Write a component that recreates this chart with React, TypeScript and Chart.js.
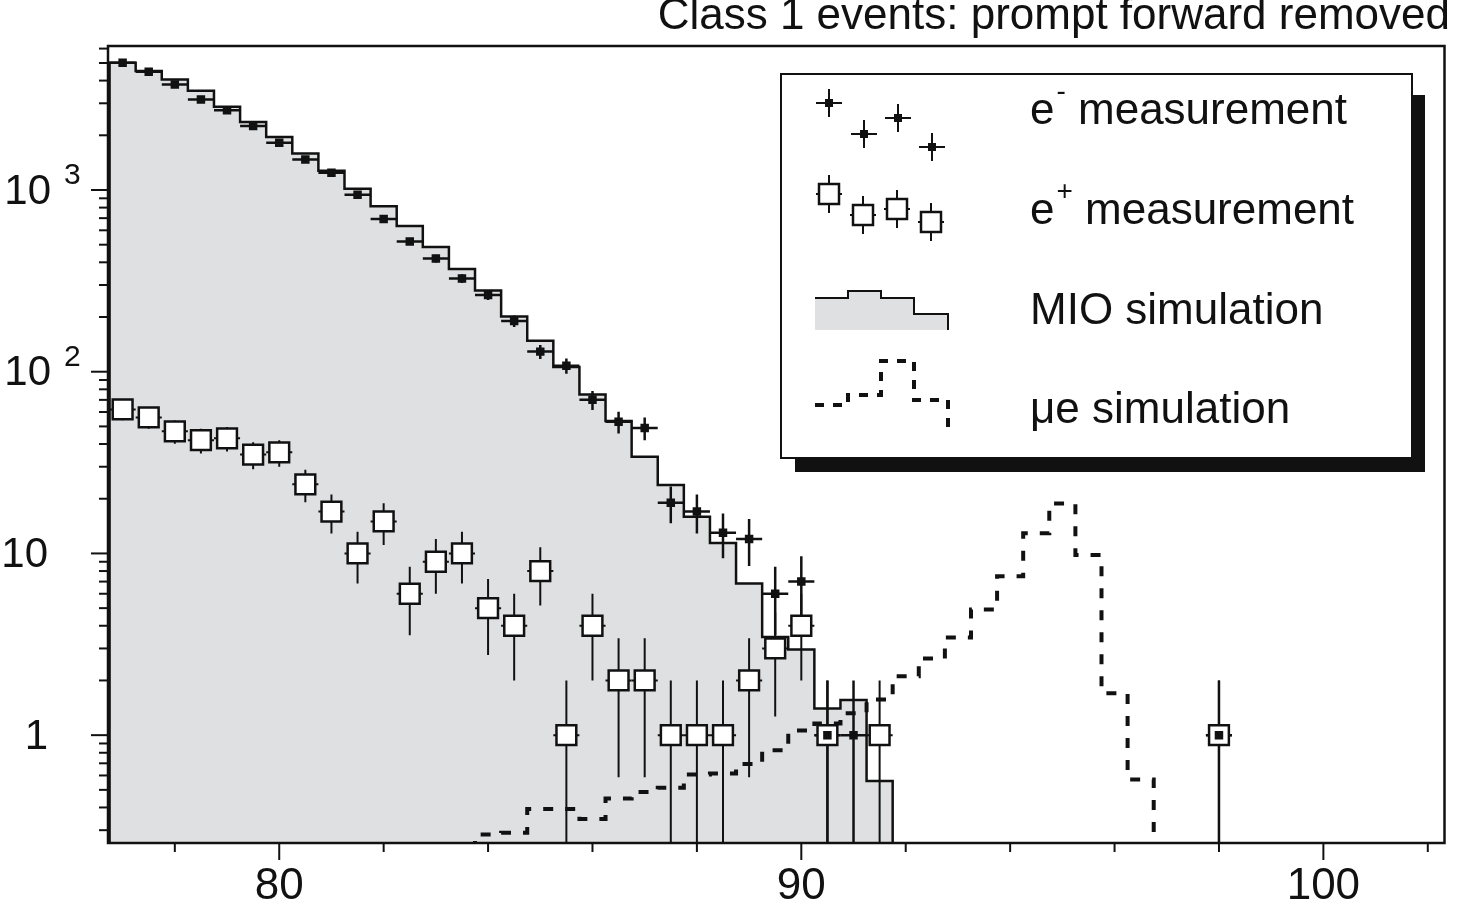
import React, { useEffect, useRef } from 'react';
import { Chart, registerables } from 'chart.js';

Chart.register(...registerables);

// bin centres are 0.5 MeV apart
const BIN_W = 0.5;
const E_MINUS_X = [77, 77.5, 78, 78.5, 79, 79.5, 80, 80.5, 81, 81.5, 82, 82.5, 83, 83.5, 84, 84.5, 85, 85.5, 86, 86.5, 87, 87.5, 88, 88.5, 89, 89.5, 90, 90.5, 91, 98];
const E_MINUS_Y = [5010, 4470, 3810, 3150, 2750, 2250, 1820, 1473, 1245, 941, 693, 521, 420, 326, 264, 190, 129, 108, 70, 53, 49, 19, 17, 13, 12, 6, 7, 1, 1, 1];
const E_PLUS_X = [77, 77.5, 78, 78.5, 79, 79.5, 80, 80.5, 81, 81.5, 82, 82.5, 83, 83.5, 84, 84.5, 85, 85.5, 86, 86.5, 87, 87.5, 88, 88.5, 89, 89.5, 90, 90.5, 91.5, 98];
const E_PLUS_Y = [62, 56, 47, 42, 43, 35, 36, 24, 17, 10, 15, 6, 9, 10, 5, 4, 8, 1, 4, 2, 2, 1, 1, 1, 2, 3, 4, 1, 1, 1];
const MIO_X = [77, 77.5, 78, 78.5, 79, 79.5, 80, 80.5, 81, 81.5, 82, 82.5, 83, 83.5, 84, 84.5, 85, 85.5, 86, 86.5, 87, 87.5, 88, 88.5, 89, 89.5, 90, 90.5, 91, 91.5];
const MIO_Y = [5010, 4510, 4060, 3520, 2870, 2370, 1960, 1590, 1275, 1016, 815, 633, 486, 367, 280, 201, 148, 106, 75, 53.5, 34, 23.8, 15.9, 11.4, 6.84, 3.47, 2.96, 1.40, 1.56, 0.56];
const MUE_X = [84, 84.5, 85, 85.5, 86, 86.5, 87, 87.5, 88, 88.5, 89, 89.5, 90, 90.5, 91, 91.5, 92, 92.5, 93, 93.5, 94, 94.5, 95, 95.5, 96, 96.5];
const MUE_Y = [0.284, 0.29, 0.392, 0.392, 0.346, 0.448, 0.486, 0.513, 0.608, 0.615, 0.693, 0.827, 1.06, 1.16, 1.32, 1.57, 2.11, 2.64, 3.45, 4.92, 7.5, 12.9, 18.8, 9.79, 1.70, 0.57];
const X_MIN = 76.72, X_MAX = 102.32;
const Y_MIN = 0.255, Y_MAX = 6200;
const X_LABELS = [80, 90, 100];
const Y_LABELS: [number, string, string][] = [[1000, '10', '3'], [100, '10', '2'], [10, '10', ''], [1, '1', '']];
const TITLE = 'Class 1 events: prompt forward removed';
const FLOOR = 0.1;

const FONT = '"Liberation Sans", Arial, sans-serif';

// histogram outline: one point per bin left edge, plus the closing edge
function steps(xs: number[], ys: number[], tailTo?: number) {
  const pts = [{ x: xs[0] - BIN_W / 2, y: FLOOR }];
  xs.forEach((x, i) => pts.push({ x: x - BIN_W / 2, y: ys[i] }));
  const end = xs[xs.length - 1] + BIN_W / 2;
  pts.push({ x: end, y: ys[ys.length - 1] });
  pts.push({ x: end, y: FLOOR });
  if (tailTo) pts.push({ x: tailTo, y: FLOOR });
  return pts;
}

const decor = {
  id: 'decor',
  beforeDatasetDraw(chart: any, args: any) {
    if (args.index !== 2) return;
    const { ctx, chartArea: a } = chart;
    const xs = chart.scales.x, ys = chart.scales.y;
    ctx.save();
    ctx.beginPath();
    ctx.rect(a.left, a.top, a.right - a.left, a.bottom - a.top);
    ctx.clip();
    ctx.strokeStyle = '#111';
    const bars = (X: number[], Y: number[], w: number) => {
      ctx.lineWidth = w;
      X.forEach((x, i) => {
        const n = Y[i], e = Math.sqrt(n);
        const px = xs.getPixelForValue(x), py = ys.getPixelForValue(n);
        const lo = n - e > 0 ? ys.getPixelForValue(n - e) : a.bottom + 5;
        ctx.beginPath();
        ctx.moveTo(px, ys.getPixelForValue(n + e));
        ctx.lineTo(px, lo);
        ctx.moveTo(xs.getPixelForValue(x - BIN_W / 2), py);
        ctx.lineTo(xs.getPixelForValue(x + BIN_W / 2), py);
        ctx.stroke();
      });
    };
    bars(E_PLUS_X, E_PLUS_Y, 2);
    bars(E_MINUS_X, E_MINUS_Y, 2.5);
    ctx.restore();
  },
  afterDraw(chart: any) {
    const { ctx, chartArea: a } = chart;
    const xs = chart.scales.x, ys = chart.scales.y;
    ctx.save();
    ctx.strokeStyle = '#111';
    ctx.fillStyle = '#111';
    ctx.lineWidth = 2.5;
    ctx.strokeRect(a.left, a.top, a.right - a.left, a.bottom - a.top);
    // x ticks every 2
    ctx.lineWidth = 2;
    for (let v = 78; v <= 102; v += 2) {
      const px = xs.getPixelForValue(v);
      const len = v % 10 === 0 ? 17 : 9;
      ctx.beginPath(); ctx.moveTo(px, a.bottom); ctx.lineTo(px, a.bottom + len); ctx.stroke();
    }
    // y ticks
    for (let d = 0.1; d < 10000; d *= 10) {
      for (let k = 1; k <= 9; k++) {
        const v = d * k;
        if (v < Y_MIN || v > Y_MAX) continue;
        const py = ys.getPixelForValue(v);
        const len = k === 1 ? 17 : 9;
        ctx.beginPath(); ctx.moveTo(a.left, py); ctx.lineTo(a.left - len, py); ctx.stroke();
      }
    }
    ctx.textBaseline = 'middle';
    ctx.font = `44px ${FONT}`;
    ctx.textAlign = 'center';
    X_LABELS.forEach(v => ctx.fillText(String(v), xs.getPixelForValue(v), a.bottom + 44));
    Y_LABELS.forEach(([v, base, sup]) => {
      const py = ys.getPixelForValue(v);
      ctx.font = `42px ${FONT}`;
      ctx.textAlign = 'right';
      ctx.fillText(base, sup ? 51 : 48, py + 2);
      if (sup) {
        ctx.font = `30px ${FONT}`;
        ctx.textAlign = 'left';
        ctx.fillText(sup, 64, py - 14);
      }
    });
    ctx.font = `44px ${FONT}`;
    ctx.textAlign = 'right';
    ctx.textBaseline = 'alphabetic';
    ctx.fillText(TITLE, 1450, 29);

    // legend
    ctx.fillStyle = '#111';
    ctx.fillRect(795, 95, 630, 377);
    ctx.fillStyle = '#fff';
    ctx.fillRect(781, 74, 631, 384);
    ctx.lineWidth = 2;
    ctx.strokeRect(781, 74, 631, 384);
    ctx.lineWidth = 2;
    ctx.strokeStyle = '#111';
    [[829, 103], [864, 134], [898, 118], [932, 147]].forEach(([x, y]) => {
      ctx.beginPath(); ctx.moveTo(x - 13, y); ctx.lineTo(x + 13, y); ctx.moveTo(x, y - 14); ctx.lineTo(x, y + 14); ctx.stroke();
      ctx.fillStyle = '#111'; ctx.fillRect(x - 4, y - 4, 8, 8);
    });
    [[829, 194], [863, 215], [897, 209], [931, 222]].forEach(([x, y]) => {
      ctx.beginPath(); ctx.moveTo(x - 13, y); ctx.lineTo(x + 13, y); ctx.moveTo(x, y - 19); ctx.lineTo(x, y + 19); ctx.stroke();
      ctx.fillStyle = '#fff'; ctx.fillRect(x - 10, y - 10, 20, 20);
      ctx.lineWidth = 2.5; ctx.strokeRect(x - 10, y - 10, 20, 20); ctx.lineWidth = 2;
    });
    const mio = [[815, 298], [848, 291], [881, 298], [914, 314], [948, 314]];
    ctx.beginPath();
    ctx.moveTo(815, 330);
    mio.forEach(([x, y], i) => { if (i) ctx.lineTo(x, mio[i - 1][1]); ctx.lineTo(x, y); });
    ctx.lineTo(948, 330); ctx.closePath();
    ctx.fillStyle = '#dfe0e2'; ctx.fill();
    ctx.beginPath();
    ctx.moveTo(815, 298);
    mio.forEach(([x, y], i) => { if (i) { ctx.lineTo(x, mio[i - 1][1]); ctx.lineTo(x, y); } });
    ctx.lineTo(948, 330); ctx.stroke();
    const mue = [[815, 405], [848, 395], [881, 361], [914, 400], [948, 430]];
    ctx.setLineDash([9, 9]); ctx.lineWidth = 4;
    ctx.beginPath(); ctx.moveTo(815, 405);
    mue.forEach(([x, y], i) => { if (i) { ctx.lineTo(x, mue[i - 1][1]); ctx.lineTo(x, y); } });
    ctx.stroke(); ctx.setLineDash([]);
    ctx.fillStyle = '#111';
    ctx.textAlign = 'left';
    ctx.textBaseline = 'middle';
    const item = (y: number, pre: string, sup: string, rest: string) => {
      ctx.font = `44px ${FONT}`;
      ctx.fillText(pre, 1030, y);
      let x = 1030 + ctx.measureText(pre).width;
      if (sup) {
        ctx.font = `28px ${FONT}`;
        ctx.fillText(sup, x + 2, y - 20);
        x += ctx.measureText(sup).width + 2;
        ctx.font = `44px ${FONT}`;
      }
      ctx.fillText(rest, x, y);
    };
    item(112, 'e', '-', ' measurement');
    item(212, 'e', '+', ' measurement');
    item(312, 'MIO simulation', '', '');
    item(411, 'μe simulation', '', '');
    ctx.restore();
  },
};

export default function App() {
  const ref = useRef<HTMLCanvasElement>(null);
  useEffect(() => {
    if (!ref.current) return;
    const chart = new Chart(ref.current, {
      type: 'scatter',
      data: {
        datasets: [
          {
            type: 'line', data: steps(MIO_X, MIO_Y, 102.25), stepped: 'before',
            borderColor: '#111', borderWidth: 2.5, backgroundColor: '#dfe0e2', fill: 'start',
            pointRadius: 0, order: 4,
          },
          {
            type: 'line', data: steps(MUE_X, MUE_Y), stepped: 'before',
            borderColor: '#111', borderWidth: 4, borderDash: [10, 12], fill: false,
            pointRadius: 0, order: 3,
          },
          {
            data: E_PLUS_X.map((x, i) => ({ x, y: E_PLUS_Y[i] })),
            pointStyle: 'rect', pointRadius: 14, backgroundColor: '#fff', borderColor: '#111', borderWidth: 2.5, order: 2,
          },
          {
            data: E_MINUS_X.map((x, i) => ({ x, y: E_MINUS_Y[i] })),
            pointStyle: 'rect', pointRadius: 6, backgroundColor: '#111', borderColor: '#111', borderWidth: 0, order: 1,
          },
        ],
      },
      options: {
        responsive: false,
        animation: false,
        layout: { padding: { left: 108, right: 0, top: 46, bottom: 73 } },
        plugins: { legend: { display: false }, tooltip: { enabled: false } },
        scales: {
          x: { type: 'linear', min: X_MIN, max: X_MAX, display: false },
          y: { type: 'logarithmic', min: Y_MIN, max: Y_MAX, display: false },
        },
      },
      plugins: [decor],
    });
    return () => chart.destroy();
  }, []);
  return (
    <div style={{ position: 'fixed', left: 0, top: 0, width: 1461, height: 916, background: '#fff' }}>
      <canvas ref={ref} width={1461} height={916} />
    </div>
  );
}
